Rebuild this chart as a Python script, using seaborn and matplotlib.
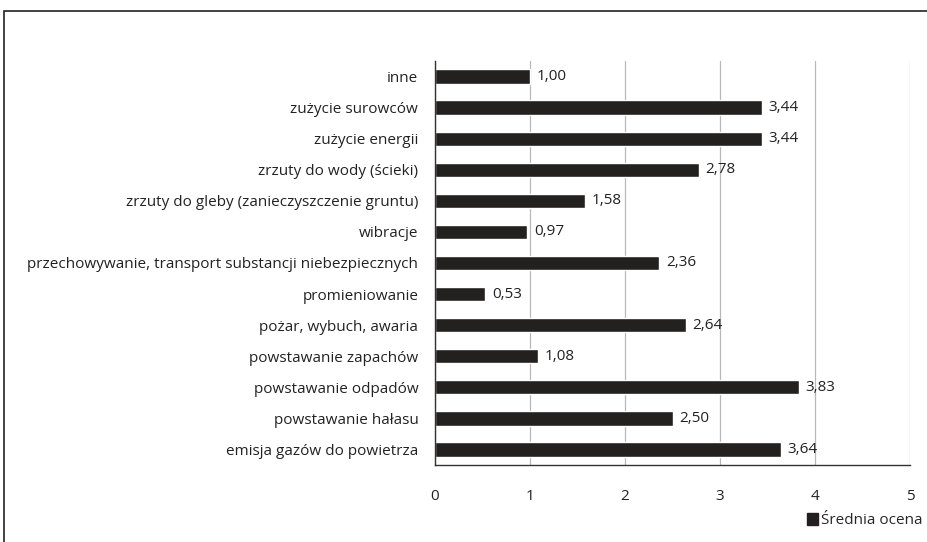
import matplotlib
matplotlib.use("Agg")
import matplotlib.pyplot as plt
import seaborn as sns
import pandas as pd
import numpy as np
from matplotlib.patches import Rectangle, Patch

categories = [
    "inne",
    "zużycie surowców",
    "zużycie energii",
    "zrzuty do wody (ścieki)",
    "zrzuty do gleby (zanieczyszczenie gruntu)",
    "wibracje",
    "przechowywanie, transport substancji niebezpiecznych",
    "promieniowanie",
    "pożar, wybuch, awaria",
    "powstawanie zapachów",
    "powstawanie odpadów",
    "powstawanie hałasu",
    "emisja gazów do powietrza",
]
values = [1.00, 3.44, 3.44, 2.78, 1.58, 0.97, 2.36, 0.53, 2.64, 1.08, 3.83, 2.50, 3.64]
series_name = "Średnia ocena"
xticks = [0, 1, 2, 3, 4, 5]

sns.set_theme(style="white")
plt.rcParams['font.family'] = ['Open Sans', 'DejaVu Sans']

df = pd.DataFrame({"cat": categories, "val": values})

fig = plt.figure(figsize=(9.27, 5.42), dpi=100)
ax = fig.add_axes([435/927, 1 - 465/542, (910 - 435)/927, (465 - 61)/542])

bar_color = "#231f20"
sns.barplot(data=df, y="cat", x="val", orient="h", color=bar_color,
            width=0.46, ax=ax, order=categories)

ax.set_xlim(0, 5)
ax.set_ylim(len(categories) - 0.5, -0.5)
ax.set_xticks(xticks)
ax.set_xticklabels([str(t) for t in xticks])
ax.set_xlabel("")
ax.set_ylabel("")
ax.grid(axis="x", color="#b8b8b8", linewidth=0.9)
ax.set_axisbelow(True)

for s in ["top", "right"]:
    ax.spines[s].set_visible(False)
ax.spines["left"].set_color("#333333")
ax.spines["bottom"].set_color("#333333")
ax.spines["left"].set_linewidth(1.0)
ax.spines["bottom"].set_linewidth(1.0)

fs = 11
ax.tick_params(axis="x", length=4, color="#888888", labelsize=fs, pad=13, labelcolor="#222222")
ax.tick_params(axis="y", which="major", length=0, labelsize=fs, pad=12, labelcolor="#222222")
ax.set_yticks(np.arange(-0.5, len(categories), 1), minor=True)
ax.tick_params(axis="y", which="minor", length=5, color="#333333", width=1)

for i, v in enumerate(values):
    ax.text(v + 0.07, i, f"{v:.2f}".replace(".", ","), va="center", ha="left",
            fontsize=fs, color="#222222")

handle = Patch(facecolor=bar_color, edgecolor=bar_color)
fig.legend([handle], [series_name], loc="lower right", bbox_to_anchor=(1.01, 0.0),
           frameon=False, fontsize=fs, handlelength=0.7, handleheight=0.9,
           handletextpad=0.2, borderaxespad=0.5)

fig.patches.append(Rectangle((4/927, -0.1), 1.2, 1 - 11/542 + 0.1,
                             transform=fig.transFigure, fill=False,
                             edgecolor="#222222", linewidth=1.2, figure=fig))

fig.savefig("out.png", dpi=100)
